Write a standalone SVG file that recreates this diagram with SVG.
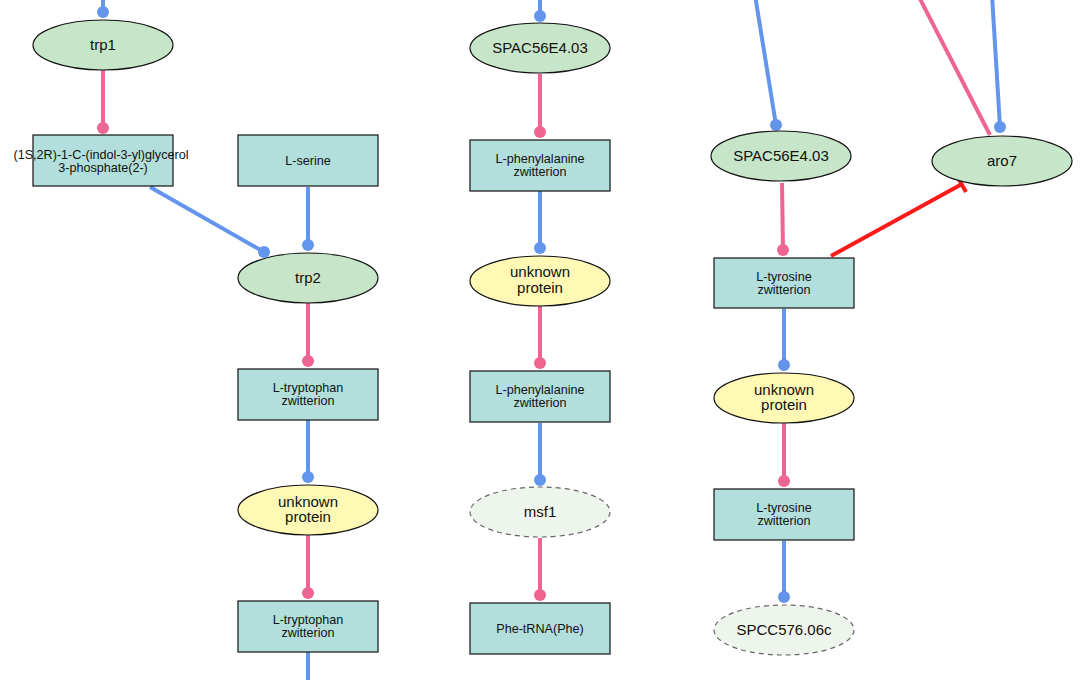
<svg xmlns="http://www.w3.org/2000/svg" width="1082" height="680" viewBox="0 0 1082 680">
<defs>
<style>
.gene ellipse{fill:#c6e5c9;stroke:#111;stroke-width:1.2}
.unk ellipse{fill:#fff9b5;stroke:#111;stroke-width:1.2}
.ghost ellipse{fill:#eef5ec;stroke:#666;stroke-width:1.2;stroke-dasharray:5 4}
.chem rect{fill:#b2dfdb;stroke:#111;stroke-width:1.2}
text{font-family:"Liberation Sans",Arial,sans-serif;fill:#111;text-anchor:middle}
.big{font-size:15px}
.sm{font-size:12.6px}
.pk{stroke:#ef6592;stroke-width:4;fill:none}
.bl{stroke:#6495ed;stroke-width:4;fill:none}
.rd{stroke:#ff1a1a;stroke-width:4;fill:none}
</style>
<marker id="dp" viewBox="-6 -6 12 12" markerWidth="12" markerHeight="12" markerUnits="userSpaceOnUse" refX="0" refY="0"><circle r="6" fill="#ef6592"/></marker>
<marker id="db" viewBox="-6 -6 12 12" markerWidth="12" markerHeight="12" markerUnits="userSpaceOnUse" refX="0" refY="0"><circle r="6" fill="#6495ed"/></marker>
</defs>
<rect width="1082" height="680" fill="#fff"/>
<g id="connectors">
<line class="bl" x1="103" y1="-5" x2="103" y2="12" marker-end="url(#db)"/>
<line class="pk" x1="103" y1="70" x2="103" y2="128" marker-end="url(#dp)"/>
<line class="bl" x1="150" y1="187" x2="264" y2="252" marker-end="url(#db)"/>
<line class="bl" x1="308" y1="187" x2="308" y2="245" marker-end="url(#db)"/>
<line class="pk" x1="308" y1="303" x2="308" y2="361" marker-end="url(#dp)"/>
<line class="bl" x1="308" y1="420" x2="308" y2="477" marker-end="url(#db)"/>
<line class="pk" x1="308" y1="535" x2="308" y2="593" marker-end="url(#dp)"/>
<line class="bl" x1="308" y1="652" x2="308" y2="690"/>
<line class="bl" x1="540" y1="-5" x2="540" y2="16" marker-end="url(#db)"/>
<line class="pk" x1="540" y1="74" x2="540" y2="132" marker-end="url(#dp)"/>
<line class="bl" x1="540" y1="191" x2="540" y2="248" marker-end="url(#db)"/>
<line class="pk" x1="540" y1="306" x2="540" y2="363" marker-end="url(#dp)"/>
<line class="bl" x1="540" y1="423" x2="540" y2="480" marker-end="url(#db)"/>
<line class="pk" x1="540" y1="538" x2="540" y2="595" marker-end="url(#dp)"/>
<line class="bl" x1="755" y1="-5" x2="776" y2="125" marker-end="url(#db)"/>
<line class="pk" x1="782" y1="183" x2="783" y2="250" marker-end="url(#dp)"/>
<line class="pk" x1="918" y1="-5" x2="990" y2="135"/>
<line class="bl" x1="992" y1="-5" x2="1000" y2="127" marker-end="url(#db)"/>
<line class="rd" x1="831" y1="256" x2="962" y2="184"/>
<line class="rd" x1="957" y1="176" x2="966" y2="192" stroke-width="3"/>
<line class="bl" x1="784" y1="309" x2="784" y2="365" marker-end="url(#db)"/>
<line class="pk" x1="784" y1="423" x2="784" y2="481" marker-end="url(#dp)"/>
<line class="bl" x1="784" y1="541" x2="784" y2="597" marker-end="url(#db)"/>
</g>
<g id="trp1" class="gene"><ellipse cx="103" cy="45" rx="70" ry="25"/><text class="big" x="103" y="50">trp1</text></g>
<g id="igp" class="chem"><rect x="33" y="135" width="140" height="51"/><text class="sm" x="101" y="159">(1S,2R)-1-C-(indol-3-yl)glycerol</text><text class="sm" x="103" y="172">3-phosphate(2-)</text></g>
<g id="lserine" class="chem"><rect x="238" y="135" width="140" height="51"/><text class="sm" x="308" y="165">L-serine</text></g>
<g id="trp2" class="gene"><ellipse cx="308" cy="278" rx="70" ry="25"/><text class="big" x="308" y="283">trp2</text></g>
<g id="trp_a" class="chem"><rect x="238" y="369" width="140" height="51"/><text class="sm" x="308" y="392">L-tryptophan</text><text class="sm" x="308" y="405">zwitterion</text></g>
<g id="unk1" class="unk"><ellipse cx="308" cy="510" rx="70" ry="25"/><text class="big" x="308" y="507">unknown</text><text class="big" x="308" y="522">protein</text></g>
<g id="trp_b" class="chem"><rect x="238" y="601" width="140" height="51"/><text class="sm" x="308" y="624">L-tryptophan</text><text class="sm" x="308" y="637">zwitterion</text></g>
<g id="spac1" class="gene"><ellipse cx="540" cy="48" rx="70" ry="25"/><text class="big" x="540" y="53">SPAC56E4.03</text></g>
<g id="phe_a" class="chem"><rect x="470" y="140" width="140" height="51"/><text class="sm" x="540" y="163">L-phenylalanine</text><text class="sm" x="540" y="176">zwitterion</text></g>
<g id="unk2" class="unk"><ellipse cx="540" cy="281" rx="70" ry="25"/><text class="big" x="540" y="277">unknown</text><text class="big" x="540" y="293">protein</text></g>
<g id="phe_b" class="chem"><rect x="470" y="371" width="140" height="51"/><text class="sm" x="540" y="394">L-phenylalanine</text><text class="sm" x="540" y="407">zwitterion</text></g>
<g id="msf1" class="ghost"><ellipse cx="540" cy="512" rx="70" ry="25"/><text class="big" x="540" y="517">msf1</text></g>
<g id="phetrna" class="chem"><rect x="470" y="603" width="140" height="51"/><text class="sm" x="540" y="633">Phe-tRNA(Phe)</text></g>
<g id="spac2" class="gene"><ellipse cx="781" cy="156" rx="70" ry="25"/><text class="big" x="781" y="161">SPAC56E4.03</text></g>
<g id="aro7" class="gene"><ellipse cx="1002" cy="161" rx="70" ry="25"/><text class="big" x="1002" y="166">aro7</text></g>
<g id="tyr_a" class="chem"><rect x="714" y="258" width="140" height="50"/><text class="sm" x="784" y="281">L-tyrosine</text><text class="sm" x="784" y="294">zwitterion</text></g>
<g id="unk3" class="unk"><ellipse cx="784" cy="398" rx="70" ry="25"/><text class="big" x="784" y="395">unknown</text><text class="big" x="784" y="410">protein</text></g>
<g id="tyr_b" class="chem"><rect x="714" y="489" width="140" height="51"/><text class="sm" x="784" y="512">L-tyrosine</text><text class="sm" x="784" y="525">zwitterion</text></g>
<g id="spcc" class="ghost"><ellipse cx="784" cy="630" rx="70" ry="25"/><text class="big" x="784" y="635">SPCC576.06c</text></g>
</svg>
